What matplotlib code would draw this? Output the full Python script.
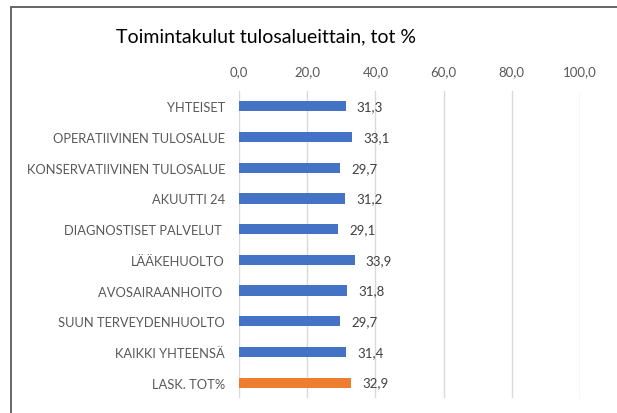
import matplotlib
matplotlib.use("Agg")
import matplotlib.pyplot as plt
from matplotlib.patches import Rectangle

categories = ["YHTEISET", "OPERATIIVINEN TULOSALUE", "KONSERVATIIVINEN TULOSALUE",
              "AKUUTTI 24", "DIAGNOSTISET PALVELUT ", "LÄÄKEHUOLTO", "AVOSAIRAANHOITO ",
              "SUUN TERVEYDENHUOLTO", "KAIKKI YHTEENSÄ", "LASK. TOT%"]
values = [31.3, 33.1, 29.7, 31.2, 29.1, 33.9, 31.8, 29.7, 31.4, 32.9]
colors = ["#4472C4"] * 9 + ["#ED7D31"]
xticks = [0, 20, 40, 60, 80, 100]
title = "Toimintakulut tulosalueittain, tot %"

plt.rcParams['font.family'] = ['Lato', 'DejaVu Sans']

fig = plt.figure(figsize=(6.17, 4.14), dpi=100)
ax = fig.add_axes([239/617, 1-399/414, 341/617, 307/414])

y = list(range(len(categories)))
ax.barh(y, values, height=0.33, color=colors, zorder=3)
ax.set_ylim(len(categories)-0.5, -0.5)
ax.set_xlim(0, 100)
ax.set_xticks(xticks)
ax.set_xticklabels([f"{v:.1f}".replace(".", ",") for v in xticks], color="#595959", fontsize=9.5)
ax.xaxis.tick_top()
ax.tick_params(axis='x', length=0, pad=10)
ax.set_yticks(y)
ax.set_yticklabels(categories, color="#595959", fontsize=9.3)
ax.tick_params(axis='y', length=0, pad=10)
ax.grid(axis='x', color="#D9D9D9", linewidth=1, zorder=0)
for s in ax.spines.values():
    s.set_visible(False)

for yi, v in zip(y, values):
    ax.annotate(f"{v:.1f}".replace(".", ","), (v, yi), xytext=(8, 0), textcoords='offset points',
                va='center', ha='left', fontsize=9.5, color="#404040")

fig.text(266/617, 1-37/414, title, ha='center', va='center', fontsize=14, color="#000000")

fig.patches.append(Rectangle((11/617, -0.1), 1.2, 1-8/414+0.1, transform=fig.transFigure,
                             fill=False, edgecolor="#595959", linewidth=1.3))

fig.savefig("out.png", dpi=100)
